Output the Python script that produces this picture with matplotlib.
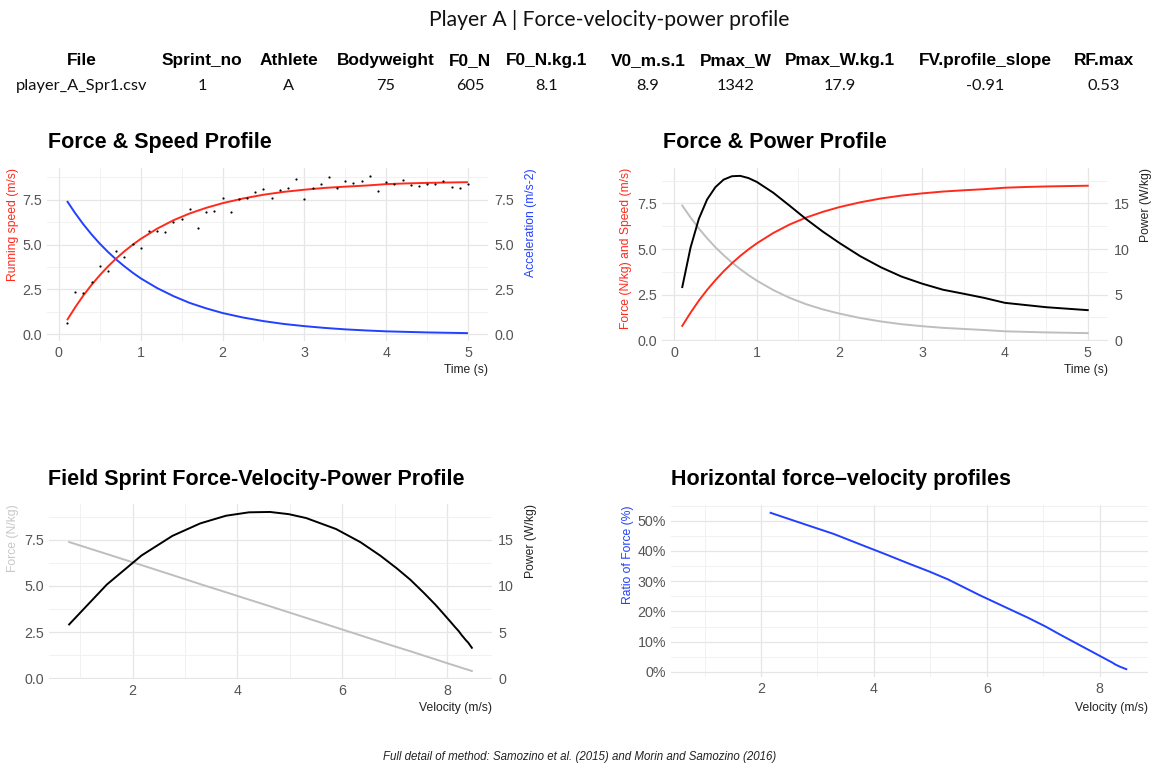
import matplotlib
matplotlib.use("Agg")
import matplotlib.pyplot as plt
from matplotlib.ticker import MultipleLocator, FormatStrFormatter, FuncFormatter

W, H, DPI = 1153, 766, 100

# ---------------- data ----------------
main_title = "Player A | Force-velocity-power profile"
caption = "Full detail of method: Samozino et al. (2015) and Morin and Samozino (2016)"

table_headers = ["File", "Sprint_no", "Athlete", "Bodyweight", "F0_N", "F0_N.kg.1",
                 "V0_m.s.1", "Pmax_W", "Pmax_W.kg.1", "FV.profile_slope", "RF.max"]
table_values = ["player_A_Spr1.csv", "1", "A", "75", "605", "8.1",
                "8.9", "1342", "17.9", "-0.91", "0.53"]

# modelled curves sampled over time (s)
time_s = [0.1, 0.2, 0.3, 0.4, 0.5, 0.6, 0.7, 0.8, 0.9, 1.0, 1.2, 1.4, 1.6, 1.8, 2.0,
          2.25, 2.5, 2.75, 3.0, 3.25, 3.5, 3.75, 4.0, 4.25, 4.5, 4.75, 5.0]
speed = [0.79, 1.51, 2.17, 2.76, 3.29, 3.78, 4.22, 4.62, 4.98, 5.31, 5.88, 6.35, 6.73,
         7.04, 7.30, 7.56, 7.77, 7.93, 8.05, 8.15, 8.22, 8.28, 8.36, 8.40, 8.43, 8.45,
         8.47]
accel = [7.42, 6.74, 6.12, 5.56, 5.05, 4.59, 4.17, 3.79, 3.44, 3.12, 2.58, 2.13, 1.75,
         1.45, 1.19, 0.94, 0.74, 0.58, 0.46, 0.36, 0.28, 0.22, 0.17, 0.14, 0.11, 0.09,
         0.07]
force = [7.38, 6.73, 6.13, 5.59, 5.10, 4.66, 4.26, 3.90, 3.57, 3.27, 2.75, 2.32, 1.97,
         1.69, 1.46, 1.22, 1.03, 0.88, 0.77, 0.68, 0.62, 0.56, 0.49, 0.46, 0.43, 0.41,
         0.39]
power = [5.83, 10.16, 13.30, 15.43, 16.78, 17.61, 17.98, 18.02, 17.78, 17.36, 16.17,
         14.73, 13.26, 11.90, 10.66, 9.22, 8.00, 6.98, 6.20, 5.54, 5.10, 4.64, 4.10,
         3.86, 3.62, 3.46, 3.30]

# observed split speeds
obs_time = [0.1, 0.2, 0.3, 0.4, 0.5, 0.6, 0.7, 0.8, 0.9, 1.0,
            1.1, 1.2, 1.3, 1.4, 1.5, 1.6, 1.7, 1.8, 1.9, 2.0,
            2.1, 2.2, 2.3, 2.4, 2.5, 2.6, 2.7, 2.8, 2.9, 3.0,
            3.1, 3.2, 3.3, 3.4, 3.5, 3.6, 3.7, 3.8, 3.9, 4.0,
            4.1, 4.2, 4.3, 4.4, 4.5, 4.6, 4.7, 4.8, 4.9, 5.0]
obs_speed = [0.64, 2.37, 2.28, 2.89, 3.79, 3.53, 4.63, 4.33, 5.05, 4.83,
             5.74, 5.74, 5.68, 6.23, 6.41, 6.96, 5.90, 6.82, 6.88, 7.57,
             6.83, 7.55, 7.60, 7.93, 8.08, 7.61, 8.06, 8.15, 8.67, 7.54,
             8.15, 8.35, 8.73, 8.15, 8.56, 8.43, 8.52, 8.82, 7.96, 8.50,
             8.37, 8.58, 8.30, 8.24, 8.35, 8.34, 8.52, 8.19, 8.17, 8.34]

# ratio of force (%) vs velocity
rf_velocity = [2.17, 2.76, 3.29, 3.78, 4.22, 4.62, 4.98, 5.31, 5.88, 6.35, 6.73, 7.04,
               7.30, 7.56, 7.77, 7.93, 8.05, 8.15, 8.22, 8.28, 8.36, 8.43, 8.47]
rf_pct = [52.6, 48.9, 45.6, 42.0, 38.8, 35.8, 33.2, 30.6, 25.3, 21.2, 17.9, 15.0,
          12.3, 9.7, 7.6, 6.0, 4.8, 3.8, 3.1, 2.4, 1.7, 1.2, 0.9]

# ---------------- styling ----------------
RED = "#FF2A1C"
BLUE = "#2240FF"
GREY = "#BEBEBE"
TICK_C = "#555555"
TICK_FS = 10.3
plt.rcParams["font.family"] = ["Liberation Sans", "DejaVu Sans"]

fig = plt.figure(figsize=(W / DPI, H / DPI), dpi=DPI)
fig.patch.set_facecolor("white")


def px_axes(left, top, right, bottom):
    return fig.add_axes([left / W, 1 - bottom / H, (right - left) / W, (bottom - top) / H])


def gg_lim(values, mult=0.05):
    lo, hi = min(values), max(values)
    span = hi - lo
    return lo - span * mult, hi + span * mult


def style(ax, xmaj, xmin, ymaj, ymin):
    for s in ax.spines.values():
        s.set_visible(False)
    ax.set_facecolor("none")
    ax.xaxis.set_major_locator(MultipleLocator(xmaj))
    ax.xaxis.set_minor_locator(MultipleLocator(xmin))
    ax.yaxis.set_major_locator(MultipleLocator(ymaj))
    ax.yaxis.set_minor_locator(MultipleLocator(ymin))
    ax.tick_params(which="both", length=0, labelsize=TICK_FS, labelcolor=TICK_C, pad=3.5)
    ax.grid(which="major", color="#E6E6E6", lw=0.9)
    ax.grid(which="minor", color="#EFEFEF", lw=0.6)
    ax.set_axisbelow(True)


def twin(ax, ylim, fmt, step):
    a2 = ax.twinx()
    a2.set_ylim(*ylim)
    for s in a2.spines.values():
        s.set_visible(False)
    a2.yaxis.set_major_locator(MultipleLocator(step))
    a2.yaxis.set_major_formatter(FormatStrFormatter(fmt))
    a2.tick_params(which="both", length=0, labelsize=TICK_FS, labelcolor=TICK_C, pad=4.5)
    a2.grid(False)
    return a2


def ylab(ax, text, color, off_px, width_px):
    lab = ax.set_ylabel(text, loc="top", color=color, fontsize=8.7)
    ax.yaxis.set_label_coords(off_px / width_px, 1.0)
    lab.set_ha("right")
    lab.set_va("center")


def xlab(ax, text, off_px, height_px):
    lab = ax.set_xlabel(text, loc="right", color="#222222", fontsize=8.7)
    ax.xaxis.set_label_coords(1.0, -off_px / height_px)
    lab.set_va("center")


def panel_title(x, y, text):
    fig.text(x / W, 1 - y / H, text, fontsize=15.5, fontweight="bold",
             ha="left", va="baseline", color="black")


# ---------------- header ----------------
fig.text(609 / W, 1 - 26 / H, main_title, fontsize=15.2, ha="center", va="baseline",
         family=["Lato", "DejaVu Sans"], color="#111111")
col_x = [82, 202, 289, 386, 470, 547, 648, 736, 840, 985, 1104]
for cx, h_, v_ in zip(col_x, table_headers, table_values):
    fig.text(cx / W, 1 - 65 / H, h_, fontsize=12.4, fontweight="bold", ha="center",
             va="baseline", color="black")
    fig.text(cx / W, 1 - 90 / H, v_, fontsize=11.8, ha="center", va="baseline",
             family=["Lato", "DejaVu Sans"], color="#111111")

# ---------------- panel 1 ----------------
L, T, R, B = 47, 168, 488, 341
ax1 = px_axes(L, T, R, B)
style(ax1, 1, 0.5, 2.5, 1.25)
ax1.set_xlim(*gg_lim(time_s))
y1 = gg_lim(speed + accel + obs_speed)
ax1.set_ylim(*y1)
ax1.yaxis.set_major_formatter(FormatStrFormatter("%.1f"))
ax1.xaxis.set_major_formatter(FormatStrFormatter("%d"))
ax1.plot(time_s, accel, color=BLUE, lw=1.4, solid_capstyle="butt")
ax1.plot(time_s, speed, color=RED, lw=1.4, solid_capstyle="butt")
ax1.scatter(obs_time, obs_speed, s=2.5, color="black", zorder=5, linewidths=0)
ax1r = twin(ax1, y1, "%.1f", 2.5)
ylab(ax1, "Running speed (m/s)", RED, -34, R - L)
ylab(ax1r, "Acceleration (m/s-2)", BLUE, (R - L) + 43, R - L)
xlab(ax1, "Time (s)", 29, B - T)
panel_title(48, 148, "Force & Speed Profile")

# ---------------- panel 2 ----------------
L, T, R, B = 662, 168, 1108, 341
ax2 = px_axes(L, T, R, B)
style(ax2, 1, 0.5, 2.5, 1.25)
ax2.set_xlim(*gg_lim(time_s))
y2 = gg_lim(speed + force + [p / 2 for p in power])
ax2.set_ylim(*y2)
ax2.yaxis.set_major_formatter(FormatStrFormatter("%.1f"))
ax2.xaxis.set_major_formatter(FormatStrFormatter("%d"))
ax2.plot(time_s, force, color=GREY, lw=1.4)
ax2.plot(time_s, speed, color=RED, lw=1.4)
ax2r = twin(ax2, (y2[0] * 2, y2[1] * 2), "%d", 5)
ax2r.plot(time_s, power, color="black", lw=1.4)
ylab(ax2, "Force (N/kg) and Speed (m/s)", RED, -36, R - L)
ylab(ax2r, "Power (W/kg)", "#222222", (R - L) + 38, R - L)
xlab(ax2, "Time (s)", 29, B - T)
panel_title(663, 148, "Force & Power Profile")

# ---------------- panel 3 ----------------
L, T, R, B = 49, 504, 492, 679
ax3 = px_axes(L, T, R, B)
style(ax3, 2, 1, 2.5, 1.25)
ax3.set_xlim(*gg_lim(speed))
y3 = gg_lim(force + [p / 2 for p in power])
ax3.set_ylim(*y3)
ax3.yaxis.set_major_formatter(FormatStrFormatter("%.1f"))
ax3.xaxis.set_major_formatter(FormatStrFormatter("%d"))
ax3.plot(speed, force, color=GREY, lw=1.4)
ax3r = twin(ax3, (y3[0] * 2, y3[1] * 2), "%d", 5)
ax3r.plot(speed, power, color="black", lw=1.4)
ylab(ax3, "Force (N/kg)", "#C8C8C8", -36, R - L)
ylab(ax3r, "Power (W/kg)", "#222222", (R - L) + 39, R - L)
xlab(ax3, "Velocity (m/s)", 29, B - T)
panel_title(48, 485, "Field Sprint Force-Velocity-Power Profile")

# ---------------- panel 4 ----------------
L, T, R, B = 671, 505, 1148, 677
ax4 = px_axes(L, T, R, B)
style(ax4, 2, 1, 10, 5)
ax4.set_xlim(*gg_lim(speed))
ax4.set_ylim(*gg_lim(rf_pct))
ax4.yaxis.set_major_formatter(FuncFormatter(lambda v, p: f"{v:.0f}%"))
ax4.xaxis.set_major_formatter(FormatStrFormatter("%d"))
ax4.plot(rf_velocity, rf_pct, color=BLUE, lw=1.4)
ylab(ax4, "Ratio of Force (%)", BLUE, -43, R - L)
xlab(ax4, "Velocity (m/s)", 31, B - T)
panel_title(671, 485, "Horizontal force\u2013velocity profiles")

# ---------------- caption ----------------
fig.text(580 / W, 1 - 760 / H, caption, fontsize=8.3, style="italic", ha="center",
         va="baseline", color="#222222")

fig.savefig("out.png", dpi=DPI, facecolor="white")
